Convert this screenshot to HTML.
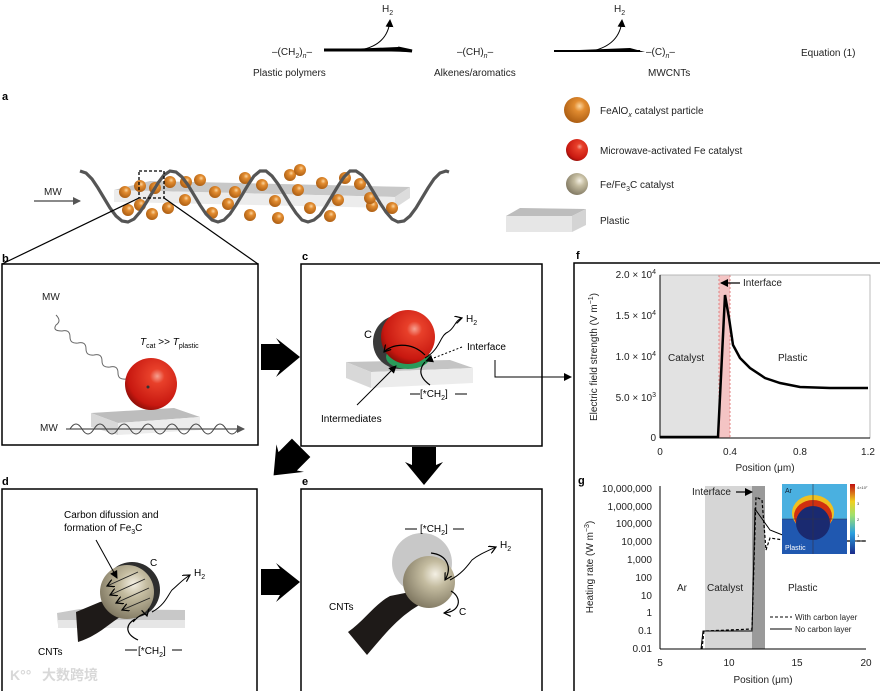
<!DOCTYPE html>
<html><head><meta charset="utf-8"><style>
html,body{margin:0;padding:0;background:#fff;}
svg{display:block;font-family:"Liberation Sans","Noto Sans CJK SC",sans-serif;}
</style></head><body>
<svg width="880" height="691" viewBox="0 0 880 691" xmlns="http://www.w3.org/2000/svg">
<defs>
<radialGradient id="red" cx="0.62" cy="0.35" r="0.7"><stop offset="0" stop-color="#f6a090"/><stop offset="0.2" stop-color="#e8402a"/><stop offset="0.8" stop-color="#c81810"/><stop offset="1" stop-color="#8a0e08"/></radialGradient>
<radialGradient id="org" cx="0.6" cy="0.35" r="0.7"><stop offset="0" stop-color="#fbd6a0"/><stop offset="0.3" stop-color="#e28c30"/><stop offset="1" stop-color="#a85a10"/></radialGradient>
<radialGradient id="bei" cx="0.62" cy="0.35" r="0.7"><stop offset="0" stop-color="#f4f0e4"/><stop offset="0.35" stop-color="#c4bca0"/><stop offset="1" stop-color="#7e7660"/></radialGradient>
<linearGradient id="cb" x1="0" y1="1" x2="0" y2="0"><stop offset="0" stop-color="#1a2a8a"/><stop offset="0.3" stop-color="#2aa0e0"/><stop offset="0.55" stop-color="#9ee070"/><stop offset="0.75" stop-color="#f0d020"/><stop offset="1" stop-color="#c01010"/></linearGradient>
<marker id="ah" markerWidth="8" markerHeight="8" refX="7" refY="4" orient="auto" markerUnits="userSpaceOnUse"><path d="M0,0 L8,4 L0,8 Z" fill="#000"/></marker>
<marker id="ao" markerWidth="8" markerHeight="8" refX="7" refY="4" orient="auto" markerUnits="userSpaceOnUse"><path d="M0,0 L7,4 L0,8" fill="none" stroke="#000" stroke-width="1.2"/></marker>
<marker id="ag" markerWidth="8" markerHeight="8" refX="7" refY="4" orient="auto" markerUnits="userSpaceOnUse"><path d="M0,0 L8,4 L0,8 Z" fill="#555"/></marker>
</defs>

<!-- Equation -->
<g font-size="10" fill="#222">
<text x="272" y="55">–(CH<tspan font-size="7" dy="3">2</tspan><tspan dy="-3">)</tspan><tspan font-size="7" dy="3" font-style="italic">n</tspan><tspan dy="-3">–</tspan></text>
<text x="457" y="55">–(CH)<tspan font-size="7" dy="3" font-style="italic">n</tspan><tspan dy="-3">–</tspan></text>
<text x="646" y="55">–(C)<tspan font-size="7" dy="3" font-style="italic">n</tspan><tspan dy="-3">–</tspan></text>
<text x="253" y="76">Plastic polymers</text>
<text x="434" y="76">Alkenes/aromatics</text>
<text x="648" y="76">MWCNTs</text>
<text x="801" y="56">Equation (1)</text>
<text x="382" y="12">H<tspan font-size="7" dy="3">2</tspan></text>
<text x="614" y="12">H<tspan font-size="7" dy="3">2</tspan></text>
</g>
<path d="M324,50 L400,50 L412,51 L398,48" stroke="#000" stroke-width="3" fill="none"/>
<path d="M324,50 L412,52 L398,47 Z" fill="#000"/>
<path d="M360,50 Q388,45 390,20" stroke="#000" stroke-width="1" fill="none" marker-end="url(#ah)"/>
<path d="M554,51 L645,52 L630,48 Z" fill="#000"/>
<path d="M554,51 L640,51" stroke="#000" stroke-width="2"/>
<path d="M592,51 Q620,45 622,20" stroke="#000" stroke-width="1" fill="none" marker-end="url(#ah)"/>

<!-- Panel a -->
<text x="2" y="100" font-size="11" font-weight="bold">a</text>
<line x1="34" y1="201" x2="80" y2="201" stroke="#444" stroke-width="1.2" marker-end="url(#ag)"/>
<text x="44" y="195" font-size="10" fill="#222">MW</text>
<polygon points="114,190 150,181 410,187 395,197" fill="#c8c8c8"/>
<polygon points="114,190 395,197 395,208 114,202" fill="#ececec"/>
<polygon points="395,197 410,187 410,198 395,208" fill="#dcdcdc"/>
<g fill="url(#org)">
<circle cx="125" cy="192" r="6"/><circle cx="140" cy="186" r="6"/><circle cx="155" cy="188" r="6"/><circle cx="170" cy="182" r="6"/>
<circle cx="128" cy="210" r="6"/><circle cx="152" cy="214" r="6"/><circle cx="168" cy="208" r="6"/><circle cx="185" cy="200" r="6"/>
<circle cx="200" cy="180" r="6"/><circle cx="215" cy="192" r="6"/><circle cx="228" cy="204" r="6"/><circle cx="245" cy="178" r="6"/>
<circle cx="250" cy="215" r="6"/><circle cx="262" cy="185" r="6"/><circle cx="275" cy="201" r="6"/><circle cx="290" cy="175" r="6"/>
<circle cx="298" cy="190" r="6"/><circle cx="310" cy="208" r="6"/><circle cx="322" cy="183" r="6"/><circle cx="338" cy="200" r="6"/>
<circle cx="345" cy="178" r="6"/><circle cx="360" cy="184" r="6"/><circle cx="372" cy="206" r="6"/><circle cx="392" cy="208" r="6"/>
<circle cx="370" cy="198" r="6"/><circle cx="212" cy="213" r="6"/><circle cx="140" cy="205" r="6"/><circle cx="330" cy="216" r="6"/>
<circle cx="300" cy="170" r="6"/><circle cx="235" cy="192" r="6"/><circle cx="186" cy="182" r="6"/><circle cx="278" cy="218" r="6"/>
</g>
<polyline fill="none" stroke="#555" stroke-width="3.2" points="
80,171 86,173 92,179 98,188 104,198 110,208 116,216 122,221 128,222 134,219 140,212 146,203 152,193 158,183 164,175 170,171 176,172 182,177 188,185 194,195 200,205 206,214 212,220 218,222 224,220 230,214 236,205 242,195 248,185 254,176 260,171 266,171 272,176 278,184 284,194 290,204 296,213 302,220 308,222 314,220 320,215 326,206 332,196 338,186 344,177 350,171 356,171 362,175 368,183 374,193 380,203 386,212 392,219 398,222 404,221 410,216 416,208 422,198 428,188 434,179 440,173 446,171 449,172"/>
<rect x="139" y="171" width="25" height="27" fill="none" stroke="#000" stroke-width="1.3" stroke-dasharray="3,2"/>
<line x1="139" y1="198" x2="2" y2="264" stroke="#000" stroke-width="1.2"/>
<line x1="164" y1="198" x2="258" y2="264" stroke="#000" stroke-width="1.2"/>

<!-- legend -->
<circle cx="577" cy="110" r="13" fill="url(#org)"/>
<circle cx="577" cy="150" r="11" fill="url(#red)"/>
<circle cx="577" cy="184" r="11" fill="url(#bei)"/>
<polygon points="506,216 520,208 586,209 572,216" fill="#bdbdbd"/>
<polygon points="506,216 572,216 572,232 506,232" fill="#e6e6e6"/>
<polygon points="572,216 586,209 586,225 572,232" fill="#d4d4d4"/>
<g font-size="10" fill="#222">
<text x="600" y="114">FeAlO<tspan font-size="7" dy="3" font-style="italic">x</tspan><tspan dy="-3"> catalyst particle</tspan></text>
<text x="600" y="154">Microwave-activated Fe catalyst</text>
<text x="600" y="188">Fe/Fe<tspan font-size="7" dy="3">3</tspan><tspan dy="-3">C catalyst</tspan></text>
<text x="600" y="224">Plastic</text>
</g>

<!-- Boxes -->
<g fill="none" stroke="#000" stroke-width="1.5">
<rect x="2" y="264" width="256" height="181"/>
<rect x="301" y="264" width="241" height="182"/>
<rect x="2" y="489" width="255" height="205"/>
<rect x="301" y="489" width="241" height="205"/>
<rect x="574" y="263" width="310" height="431"/>
</g>
<g font-size="11" font-weight="bold">
<text x="2" y="262">b</text><text x="302" y="260">c</text><text x="2" y="485">d</text><text x="302" y="485">e</text><text x="576" y="259">f</text><text x="578" y="484">g</text>
</g>

<!-- Big arrows -->
<polygon points="261,344 280,344 276,338 300,357 276,377 280,370 261,370" fill="#000"/>
<polygon points="261,569 280,569 276,563 300,582 276,602 280,595 261,595" fill="#000"/>
<polygon points="412,447 436,447 436,465 443,462 424,485 405,462 412,465" fill="#000"/>
<polygon transform="translate(287,462) rotate(135)" points="-20,-13 -1,-13 -5,-19 19,0 -5,20 -1,13 -20,13" fill="#000"/>

<!-- Panel b -->
<text x="42" y="300" font-size="10" fill="#222">MW</text>
<path d="M56,315 q6,6 0,10 q-4,6 6,6 q8,-2 8,6 q0,7 8,6 q8,-2 8,6 q0,7 8,6 q8,-2 8,6 q0,7 8,6 q8,-2 8,6 q0,7 8,6 q8,-2 8,6 q2,5 10,6" fill="none" stroke="#666" stroke-width="1"/>
<text x="140" y="345" font-size="10" font-style="italic">T<tspan font-size="7" dy="3" font-style="normal">cat</tspan><tspan dy="-3" font-style="normal"> &gt;&gt; </tspan>T<tspan font-size="7" dy="3" font-style="normal">plastic</tspan></text>
<polygon points="91,413 174,408 200,417 118,423" fill="#bdbdbd"/>
<polygon points="91,413 118,423 118,435 91,427" fill="#d8d8d8"/>
<polygon points="118,423 200,417 200,430 118,435" fill="#ececec"/>
<circle cx="151" cy="384" r="26" fill="url(#red)"/>
<circle cx="148" cy="387" r="1.5" fill="#333"/>
<text x="40" y="431" font-size="10" fill="#222">MW</text>
<line x1="66" y1="429" x2="244" y2="429" stroke="#555" stroke-width="1.2" marker-end="url(#ag)"/>
<path d="M70,429 q6,-10 12,0 t12,0 t12,0 t12,0 t12,0 t12,0 t12,0 t12,0 t12,0 t12,0 t12,0 t12,0 t12,0 t12,0" fill="none" stroke="#444" stroke-width="1"/>

<!-- Panel c -->
<polygon points="346,362 450,360 473,368 371,372" fill="#c4c4c4"/>
<polygon points="346,362 371,372 371,388 346,378" fill="#d8d8d8"/>
<polygon points="371,372 473,368 473,383 371,388" fill="#ececec"/>
<circle cx="400" cy="342" r="27" fill="#3a3a3a"/>
<ellipse cx="408" cy="357" rx="22" ry="12" fill="#2a9a5a"/>
<circle cx="408" cy="337" r="27" fill="url(#red)"/>
<text x="364" y="338" font-size="11">C</text>
<path d="M425,355 C410,340 390,345 384,352" fill="none" stroke="#000" stroke-width="1.2" marker-end="url(#ao)"/>
<path d="M425,362 C418,370 420,378 430,385" fill="none" stroke="#000" stroke-width="1.2"/>
<path d="M425,358 C440,350 440,335 448,332 C455,328 455,320 462,318" fill="none" stroke="#000" stroke-width="1" marker-end="url(#ao)"/>
<text x="466" y="322" font-size="10">H<tspan font-size="7" dy="3">2</tspan></text>
<line x1="462" y1="347" x2="426" y2="361" stroke="#000" stroke-width="1" stroke-dasharray="2,2" marker-end="url(#ah)"/>
<text x="467" y="350" font-size="10">Interface</text>
<polyline points="495,360 495,377 571,377" fill="none" stroke="#000" stroke-width="1" marker-end="url(#ah)"/>
<text x="420" y="397" font-size="10">[<tspan>*</tspan>CH<tspan font-size="7" dy="3">2</tspan><tspan dy="-3">]</tspan></text>
<line x1="410" y1="394" x2="420" y2="394" stroke="#000"/><line x1="455" y1="394" x2="467" y2="394" stroke="#000"/>
<line x1="357" y1="405" x2="396" y2="366" stroke="#000" stroke-width="1" marker-end="url(#ah)"/>
<text x="321" y="422" font-size="10">Intermediates</text>

<!-- Panel d -->
<text x="64" y="518" font-size="10">Carbon difussion and</text>
<text x="64" y="531" font-size="10">formation of Fe<tspan font-size="7" dy="3">3</tspan><tspan dy="-3">C</tspan></text>
<polygon points="57,613 80,609 185,610 185,625 58,625" fill="#c8c8c8"/>
<polygon points="58,620 185,620 185,628 58,628" fill="#e6e6e6"/>
<path d="M76,612 L100,602 L118,598 L128,612 C110,622 100,635 78,642 Z" fill="#1e1a18"/>
<circle cx="132" cy="590" r="28" fill="#2e2e2e"/>
<circle cx="127" cy="592" r="27" fill="url(#bei)"/>
<g stroke="#222" stroke-width="0.9" fill="none">
<line x1="138" y1="572" x2="107" y2="586" marker-end="url(#ao)"/>
<line x1="145" y1="579" x2="110" y2="595" marker-end="url(#ao)"/>
<line x1="149" y1="588" x2="116" y2="603" marker-end="url(#ao)"/>
<line x1="150" y1="598" x2="122" y2="610" marker-end="url(#ao)"/>
</g>
<line x1="96" y1="540" x2="117" y2="578" stroke="#000" stroke-width="1" marker-end="url(#ah)"/>
<text x="150" y="566" font-size="10">C</text>
<path d="M135,619 C125,625 125,634 138,640" fill="none" stroke="#000" stroke-width="1.2"/>
<path d="M133,622 C140,614 146,612 147,616" fill="none" stroke="#000" stroke-width="1.2" marker-end="url(#ao)"/>
<path d="M152,612 C165,605 168,595 172,590 C178,585 182,580 190,575" fill="none" stroke="#000" stroke-width="1" marker-end="url(#ao)"/>
<text x="194" y="576" font-size="10">H<tspan font-size="7" dy="3">2</tspan></text>
<text x="138" y="654" font-size="10">[<tspan>*</tspan>CH<tspan font-size="7" dy="3">2</tspan><tspan dy="-3">]</tspan></text>
<line x1="125" y1="650" x2="137" y2="650" stroke="#000"/><line x1="172" y1="650" x2="182" y2="650" stroke="#000"/>
<text x="38" y="655" font-size="10">CNTs</text>
<text x="42" y="680" font-size="14" fill="#d8d8d8" font-weight="bold">大数跨境</text>
<text x="10" y="680" font-size="14" fill="#d8d8d8" font-weight="bold">K°°</text>

<!-- Panel e -->
<path d="M348,632 C365,620 375,604 390,596 L420,590 L425,602 C405,612 392,625 367,655 Z" fill="#1e1a18"/>
<circle cx="422" cy="563" r="30" fill="#c8c8c8"/>
<circle cx="429" cy="582" r="26" fill="url(#bei)"/>
<path d="M431,553 C448,555 452,568 445,580" fill="none" stroke="#000" stroke-width="1.2" marker-end="url(#ao)"/>
<path d="M450,580 C462,574 468,565 472,560 C478,555 485,552 496,547" fill="none" stroke="#000" stroke-width="1" marker-end="url(#ao)"/>
<path d="M451,591 C463,598 460,612 444,613" fill="none" stroke="#000" stroke-width="1.2" marker-end="url(#ao)"/>
<text x="420" y="532" font-size="10">[<tspan>*</tspan>CH<tspan font-size="7" dy="3">2</tspan><tspan dy="-3">]</tspan></text>
<line x1="405" y1="529" x2="417" y2="529" stroke="#000"/><line x1="453" y1="529" x2="464" y2="529" stroke="#000"/>
<text x="500" y="548" font-size="10">H<tspan font-size="7" dy="3">2</tspan></text>
<text x="459" y="615" font-size="10">C</text>
<text x="329" y="610" font-size="10">CNTs</text>

<!-- Plot f -->
<rect x="660" y="275" width="59" height="163" fill="#e2e2e2"/>
<rect x="719" y="275" width="11" height="163" fill="#f4c4c4"/>
<line x1="719" y1="275" x2="719" y2="438" stroke="#e08080" stroke-dasharray="2,2"/>
<line x1="730" y1="275" x2="730" y2="438" stroke="#e08080" stroke-dasharray="2,2"/>
<rect x="660" y="275" width="210" height="163" fill="none" stroke="#aaa" stroke-width="0.8"/>
<line x1="660" y1="438" x2="870" y2="438" stroke="#000" stroke-width="1"/>
<line x1="660" y1="275" x2="660" y2="438" stroke="#000" stroke-width="1"/>
<polyline fill="none" stroke="#000" stroke-width="2.5" points="660,437 718,437 725,295 729,318 733,345 740,358 750,368 765,378 780,383 800,387 830,388 868,388"/>
<g font-size="10" fill="#222">
<text x="656" y="278" text-anchor="end">2.0 × 10<tspan font-size="7" dy="-4">4</tspan></text>
<text x="656" y="319" text-anchor="end">1.5 × 10<tspan font-size="7" dy="-4">4</tspan></text>
<text x="656" y="360" text-anchor="end">1.0 × 10<tspan font-size="7" dy="-4">4</tspan></text>
<text x="656" y="401" text-anchor="end">5.0 × 10<tspan font-size="7" dy="-4">3</tspan></text>
<text x="656" y="441" text-anchor="end">0</text>
<text x="660" y="455" text-anchor="middle">0</text>
<text x="730" y="455" text-anchor="middle">0.4</text>
<text x="800" y="455" text-anchor="middle">0.8</text>
<text x="868" y="455" text-anchor="middle">1.2</text>
<text x="765" y="471" text-anchor="middle">Position (μm)</text>
<text x="668" y="361">Catalyst</text>
<text x="778" y="361">Plastic</text>
<text x="743" y="286">Interface</text>
<text transform="translate(597,357) rotate(-90)" text-anchor="middle">Electric field strength (V m<tspan font-size="7" dy="-4">−1</tspan><tspan dy="4">)</tspan></text>
</g>
<line x1="740" y1="283" x2="721" y2="283" stroke="#000" stroke-width="1.2" marker-end="url(#ah)"/>

<!-- Plot g -->
<rect x="705" y="486" width="47" height="163" fill="#d6d6d6"/>
<rect x="752" y="486" width="13" height="163" fill="#9a9a9a"/>
<line x1="660" y1="649" x2="866" y2="649" stroke="#000" stroke-width="1"/>
<line x1="660" y1="486" x2="660" y2="649" stroke="#000" stroke-width="1"/>
<polyline fill="none" stroke="#000" stroke-width="1" points="701,649 703,631 752,631 755,509 760,516 770,530 790,538 810,541 866,541"/>
<polyline fill="none" stroke="#000" stroke-width="1.2" stroke-dasharray="3,2" points="702,649 704,631 752,629 756,497 762,500 766,550 770,538 790,541 866,541"/>
<g font-size="10" fill="#222">
<text x="652" y="492" text-anchor="end">10,000,000</text>
<text x="652" y="510" text-anchor="end">1,000,000</text>
<text x="652" y="527" text-anchor="end">100,000</text>
<text x="652" y="545" text-anchor="end">10,000</text>
<text x="652" y="563" text-anchor="end">1,000</text>
<text x="652" y="581" text-anchor="end">100</text>
<text x="652" y="599" text-anchor="end">10</text>
<text x="652" y="616" text-anchor="end">1</text>
<text x="652" y="634" text-anchor="end">0.1</text>
<text x="652" y="652" text-anchor="end">0.01</text>
<text x="660" y="666" text-anchor="middle">5</text>
<text x="729" y="666" text-anchor="middle">10</text>
<text x="797" y="666" text-anchor="middle">15</text>
<text x="866" y="666" text-anchor="middle">20</text>
<text x="763" y="683" text-anchor="middle">Position (μm)</text>
<text x="677" y="591">Ar</text>
<text x="707" y="591">Catalyst</text>
<text x="788" y="591">Plastic</text>
<text x="692" y="495">Interface</text>
<text transform="translate(593,567) rotate(-90)" text-anchor="middle">Heating rate (W m<tspan font-size="7" dy="-4">−3</tspan><tspan dy="4">)</tspan></text>
<text x="795" y="620" font-size="8">With carbon layer</text>
<text x="795" y="632" font-size="8">No carbon layer</text>
</g>
<line x1="770" y1="617" x2="792" y2="617" stroke="#000" stroke-dasharray="3,2"/>
<line x1="770" y1="629" x2="792" y2="629" stroke="#000"/>
<line x1="736" y1="492" x2="752" y2="492" stroke="#000" stroke-width="1.2" marker-end="url(#ah)"/>
<!-- inset -->
<rect x="782" y="484" width="65" height="70" fill="#4ab0e0"/>
<rect x="782" y="519" width="65" height="35" fill="#2058b0"/>
<ellipse cx="813" cy="513" rx="21" ry="18" fill="#f0c020"/>
<ellipse cx="813" cy="516" rx="19" ry="16" fill="#d03010"/>
<circle cx="813" cy="523" r="17" fill="#1a2a70"/>
<line x1="813" y1="484" x2="813" y2="554" stroke="#334" stroke-width="0.6"/>
<line x1="782" y1="519" x2="847" y2="519" stroke="#334" stroke-width="0.6"/>
<text x="785" y="493" font-size="7" fill="#123">Ar</text>
<text x="785" y="550" font-size="7" fill="#fff">Plastic</text>
<rect x="850" y="484" width="5" height="70" fill="url(#cb)"/>
<g font-size="4" fill="#333"><text x="857" y="489">4×10⁷</text><text x="857" y="505">3</text><text x="857" y="521">2</text><text x="857" y="537">1</text></g>
</svg>
</body></html>
